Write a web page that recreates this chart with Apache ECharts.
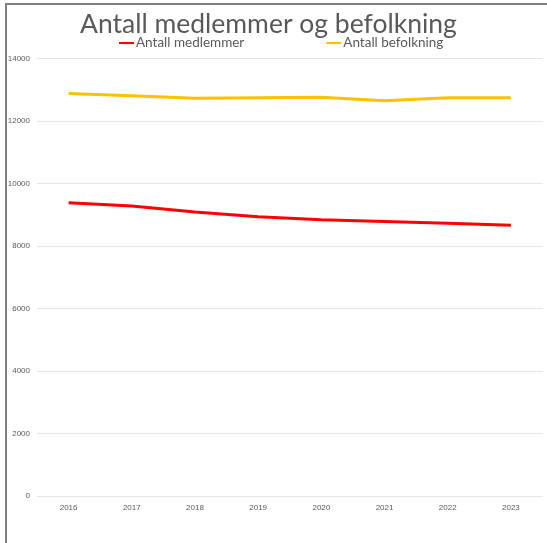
<!DOCTYPE html>
<html>
<head>
<meta charset="utf-8">
<script src="https://cdn.jsdelivr.net/npm/echarts@6/dist/echarts.min.js"></script>
<style>
html,body{margin:0;padding:0;background:#fff;}
#c{position:absolute;left:0;top:0;width:547px;height:543px;}
#frame{position:absolute;left:5px;top:3px;width:560px;height:560px;border-top:2px solid #808080;border-left:2px solid #808080;pointer-events:none;}
</style>
</head>
<body>
<div id="c"></div>
<div id="frame"></div>
<script>
const years = ['2016','2017','2018','2019','2020','2021','2022','2023'];
const medlemmer = [9380, 9270, 9080, 8930, 8830, 8780, 8720, 8660];
const befolkning = [12870, 12800, 12720, 12740, 12750, 12640, 12740, 12740];
const seriesNames = ['Antall medlemmer', 'Antall befolkning'];

const chart = echarts.init(document.getElementById('c'));
chart.setOption({
  animation: false,
  backgroundColor: '#fff',
  title: {
    text: 'Antall medlemmer og befolkning',
    left: 75,
    top: 6,
    textStyle: {fontFamily: 'Lato', fontSize: 26.5, fontWeight: 'normal', color: '#595959'}
  },
  legend: {
    data: seriesNames,
    top: 36,
    left: 118,
    padding: 0,
    itemGap: 81,
    itemWidth: 15,
    itemHeight: 3,
    textStyle: {fontFamily: 'Lato', fontSize: 13.5, color: '#595959', padding: [0, 0, 0, -3]}
  },
  grid: {left: 37, right: 4.5, top: 58.3, bottom: 47.2, containLabel: false},
  xAxis: {
    type: 'category',
    data: years,
    boundaryGap: true,
    axisLine: {show: false},
    axisTick: {show: false},
    axisLabel: {fontFamily: 'Liberation Sans', fontSize: 8, color: '#595959', margin: 8}
  },
  yAxis: {
    type: 'value',
    min: 0,
    max: 14000,
    interval: 2000,
    axisLine: {show: false},
    axisTick: {show: false},
    splitLine: {lineStyle: {color: '#e4e4e4', width: 1}},
    axisLabel: {fontFamily: 'Liberation Sans', fontSize: 8, color: '#595959', margin: 7, formatter: v => String(v)}
  },
  series: [
    {name: seriesNames[0], type: 'line', data: medlemmer, symbol: 'none', lineStyle: {color: '#ff0000', width: 3}, itemStyle: {color: '#ff0000'}},
    {name: seriesNames[1], type: 'line', data: befolkning, symbol: 'none', lineStyle: {color: '#ffc000', width: 3}, itemStyle: {color: '#ffc000'}}
  ]
});
</script>
</body>
</html>
